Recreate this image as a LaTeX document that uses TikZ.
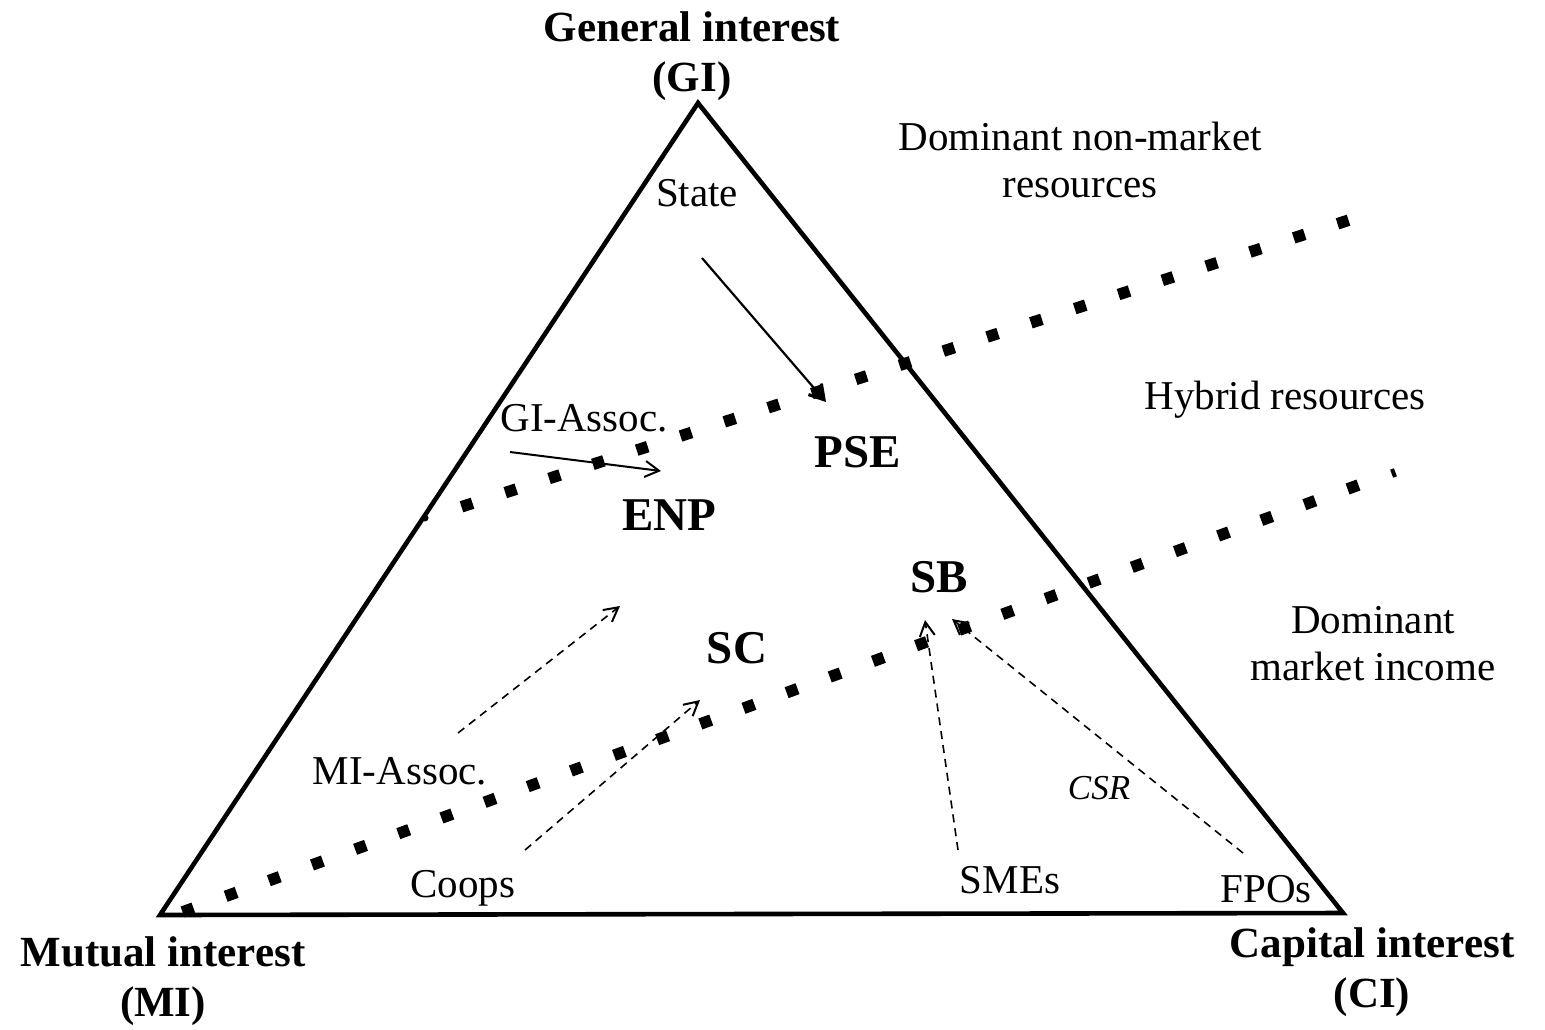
\documentclass[tikz,border=0pt]{standalone}
\usepackage{fontspec}
\setmainfont{Liberation Serif}
\usetikzlibrary{arrows.meta,calc}
\begin{document}
\begin{tikzpicture}[x=0.5pt,y=-0.5pt,
  lbl/.style={font=\fontsize{20.5}{23.5}\selectfont, inner sep=0pt, align=center},
  big/.style={font=\fontsize{23.5}{26}\selectfont\bfseries, inner sep=0pt},
  corner/.style={font=\fontsize{21.5}{25}\selectfont\bfseries, inner sep=0pt, align=center},
  sqdot/.style={rectangle, fill=black, inner sep=0pt, minimum size=5.8pt},
  edgemark/.style={circle, fill=black, inner sep=0pt, minimum size=3.5pt},
  statearrow/.style={line width=1.1pt, -{Straight Barb[length=7pt,width=8.5pt,line width=1.6pt]}},
  solidarrow/.style={line width=1pt, -{Straight Barb[length=7pt,width=8pt,line width=1pt]}},
  dasharrow/.style={line width=0.8pt, dash pattern=on 4pt off 3pt, -{Straight Barb[length=7pt,width=7.5pt,line width=1pt]}},
]
\useasboundingbox (0,0) rectangle (1545,1029);

% triangle
\coordinate (GI) at (698,103);
\coordinate (MI) at (160,915);
\coordinate (CI) at (1343,913);
\draw[line width=2.3pt, line join=miter] (GI) -- (MI) -- (CI) -- cycle;

% dotted boundaries
\coordinate (u1) at (467,505);
\coordinate (u2) at (1343,222);
\foreach \i in {0,...,20}
  \node[sqdot, rotate=17.9] (ud\i) at ($(u1)!\i/20!(u2)$) {};
\coordinate (l1) at (188,910);
\coordinate (l2) at (1353,487);
\foreach \i in {0,...,27}
  \node[sqdot, rotate=20] (ld\i) at ($(l1)!\i/27!(l2)$) {};
\coordinate (tk1) at (1392,469);
\coordinate (tk2) at (1395,477);
\draw[line width=2pt] (tk1) -- (tk2);
\node[edgemark] (em1) at (425,518) {};
\node[edgemark] (em2) at (905,363) {};

% labels
\node[corner] (gi) at (692,56) {General interest\\(GI)};
\node[corner] (mi) at (163,981) {Mutual interest\\(MI)};
\node[corner] (ci) at (1372,972) {Capital interest\\(CI)};

\node[lbl] (dnm) at (1080,160) {Dominant non-market\\resources};
\node[lbl] (hyb) at (1285,400) {Hybrid resources};
\node[lbl] (dmi) at (1373,644) {Dominant\\market income};

\node[lbl] (state) at (697,193) {State};
\node[lbl, anchor=west] (gia) at (500,418) {GI-Assoc.};
\node[lbl] (mia) at (400,771) {MI-Assoc.};
\node[lbl] (coops) at (463,888) {Coops};
\node[lbl] (smes) at (1010,880) {SMEs};
\node[lbl] (fpos) at (1266,889) {FPOs};
\node[lbl, font=\fontsize{17.5}{20}\selectfont\itshape] (csr) at (1099,788) {CSR};

\node[big] (pse) at (858,452) {PSE};
\node[big] (enp) at (669,515) {ENP};
\node[big] (sb) at (939,577) {SB};
\node[big] (sc) at (737,648) {SC};

% arrows
\coordinate (stS) at (702,258);
\coordinate (stE) at (826,402);
\draw[statearrow] (stS) -- (stE);
\coordinate (giS) at (510,452);
\coordinate (giE) at (661,471);
\draw[solidarrow] (giS) -- (giE);
\coordinate (miS) at (458,733);
\coordinate (miE) at (620,606);
\draw[dasharrow] (miS) -- (miE);
\coordinate (coS) at (525,850);
\coordinate (coE) at (700,700);
\draw[dasharrow] (coS) -- (coE);
\coordinate (smS) at (958,850);
\coordinate (smE) at (925,620);
\draw[dasharrow] (smS) -- (smE);
\coordinate (fpS) at (1243,853);
\coordinate (fpE) at (952,619);
\draw[dasharrow] (fpS) -- (fpE);
\end{tikzpicture}
\end{document}
